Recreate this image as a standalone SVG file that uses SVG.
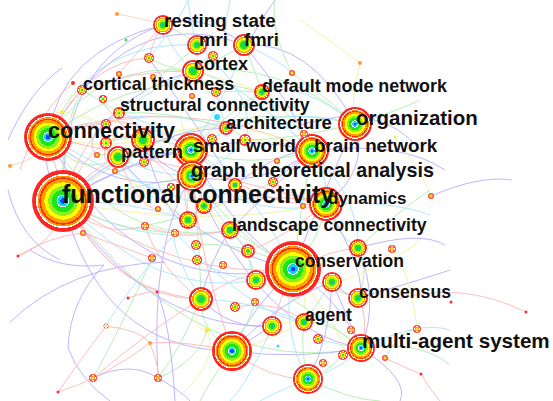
<svg xmlns="http://www.w3.org/2000/svg" width="553" height="401" viewBox="0 0 553 401">
  <defs>
    <style>
      .e { fill: none; stroke-width: 0.9; opacity: 0.5; }
      .eb { stroke: #6f5cff; }
      .er { stroke: #ff6f6f; }
      .eg { stroke: #66dd66; }
      .ec { stroke: #55ccff; }
      .ey { stroke: #e8e640; }
      .eo { stroke: #ffa060; }
      .nL { fill: url(#ringL); }
      .nM { fill: url(#ringM); }
      .nS { fill: url(#ringS); }
      .nT { fill: url(#ringT); }
      .dr { fill: #ff2a2a; }
      .do { fill: #ff9a40; }
      .dy { fill: #f0f040; }
      .dg { fill: #40e040; }
      .dc { fill: #30d8ff; }
      .lbl { font-family: "Liberation Sans", Arial, sans-serif; font-weight: bold; fill: #111; }
    </style>
    <radialGradient id="ringL">
      <stop offset="0" stop-color="#1a3cff"/>
      <stop offset="0.09" stop-color="#1a3cff"/>
      <stop offset="0.09" stop-color="#00d8ff"/>
      <stop offset="0.17" stop-color="#00d8ff"/>
      <stop offset="0.17" stop-color="#ffffff"/>
      <stop offset="0.21" stop-color="#ffffff"/>
      <stop offset="0.21" stop-color="#19e619"/>
      <stop offset="0.36" stop-color="#19e619"/>
      <stop offset="0.36" stop-color="#8cf01e"/>
      <stop offset="0.48" stop-color="#8cf01e"/>
      <stop offset="0.48" stop-color="#ffff00"/>
      <stop offset="0.60" stop-color="#ffff00"/>
      <stop offset="0.60" stop-color="#ffa000"/>
      <stop offset="0.71" stop-color="#ffa000"/>
      <stop offset="0.71" stop-color="#ff2a00"/>
      <stop offset="0.76" stop-color="#ff2a00"/>
      <stop offset="0.76" stop-color="#ff9a00"/>
      <stop offset="0.82" stop-color="#ff9a00"/>
      <stop offset="0.82" stop-color="#ffffff"/>
      <stop offset="0.87" stop-color="#ffffff"/>
      <stop offset="0.87" stop-color="#ff2525"/>
      <stop offset="1" stop-color="#ff2525"/>
    </radialGradient>
    <radialGradient id="ringM">
      <stop offset="0" stop-color="#00b8ff"/>
      <stop offset="0.12" stop-color="#00b8ff"/>
      <stop offset="0.12" stop-color="#20e020"/>
      <stop offset="0.35" stop-color="#20e020"/>
      <stop offset="0.35" stop-color="#a0f020"/>
      <stop offset="0.48" stop-color="#a0f020"/>
      <stop offset="0.48" stop-color="#ffff00"/>
      <stop offset="0.62" stop-color="#ffff00"/>
      <stop offset="0.62" stop-color="#ffa000"/>
      <stop offset="0.75" stop-color="#ffa000"/>
      <stop offset="0.75" stop-color="#ffffff"/>
      <stop offset="0.81" stop-color="#ffffff"/>
      <stop offset="0.81" stop-color="#ff2525"/>
      <stop offset="1" stop-color="#ff2525"/>
    </radialGradient>
    <radialGradient id="ringS">
      <stop offset="0" stop-color="#30e030"/>
      <stop offset="0.25" stop-color="#30e030"/>
      <stop offset="0.25" stop-color="#e8f020"/>
      <stop offset="0.5" stop-color="#e8f020"/>
      <stop offset="0.5" stop-color="#ffa000"/>
      <stop offset="0.62" stop-color="#ffa000"/>
      <stop offset="0.62" stop-color="#ffffff"/>
      <stop offset="0.72" stop-color="#ffffff"/>
      <stop offset="0.72" stop-color="#ff3030"/>
      <stop offset="1" stop-color="#ff3030"/>
    </radialGradient>
    <radialGradient id="ringT">
      <stop offset="0" stop-color="#f0e830"/>
      <stop offset="0.35" stop-color="#f0e830"/>
      <stop offset="0.35" stop-color="#ff9a30"/>
      <stop offset="0.6" stop-color="#ff9a30"/>
      <stop offset="0.6" stop-color="#ffffff"/>
      <stop offset="0.7" stop-color="#ffffff"/>
      <stop offset="0.7" stop-color="#ff4a3a"/>
      <stop offset="1" stop-color="#ff4a3a"/>
    </radialGradient>
  </defs>

  <rect width="553" height="401" fill="#ffffff"/>

  <!-- co-occurrence links -->
  <g id="connectors" class="e">
    <path class="eb" d="M63 201 Q40 170 48 137"/>
    <path class="eb" d="M63 201 Q130 160 191 150"/>
    <path class="eg" d="M63 201 Q120 190 192 176"/>
    <path class="er" d="M63 201 Q180 280 293 269"/>
    <path class="ec" d="M63 201 Q150 250 230 230"/>
    <path class="eb" d="M63 201 Q190 120 312 151"/>
    <path class="eg" d="M63 201 Q200 90 355 124"/>
    <path class="eb" d="M63 201 Q90 100 193 71"/>
    <path class="eb" d="M63 201 Q60 60 163 25"/>
    <path class="er" d="M63 201 Q90 170 118 157"/>
    <path class="er" d="M63 201 Q120 300 201 299"/>
    <path class="eb" d="M63 201 Q100 350 232 351"/>
    <path class="ey" d="M63 201 Q200 230 326 204"/>
    <path class="eg" d="M63 201 Q200 380 361 348"/>
    <path class="er" d="M48 137 Q120 100 191 150"/>
    <path class="eg" d="M48 137 Q100 60 193 71"/>
    <path class="ec" d="M48 137 Q90 40 197 45"/>
    <path class="eb" d="M48 137 Q130 0 244 45"/>
    <path class="ey" d="M48 137 Q55 100 82 90"/>
    <path class="eg" d="M48 137 Q150 60 262 92"/>
    <path class="ec" d="M48 137 Q140 100 226 128"/>
    <path class="er" d="M48 137 Q180 90 312 151"/>
    <path class="eb" d="M48 137 Q120 200 192 176"/>
    <path class="eb" d="M48 137 Q130 300 293 269"/>
    <path class="eg" d="M48 137 Q120 250 230 230"/>
    <path class="er" d="M48 137 Q80 290 201 299"/>
    <path class="ec" d="M191 150 Q270 100 355 124"/>
    <path class="eg" d="M191 150 Q250 170 312 151"/>
    <path class="eb" d="M191 150 Q230 230 293 269"/>
    <path class="er" d="M191 150 Q260 210 326 204"/>
    <path class="ey" d="M191 150 Q170 110 193 71"/>
    <path class="ec" d="M191 150 Q230 90 244 45"/>
    <path class="eb" d="M192 176 Q260 190 312 151"/>
    <path class="ec" d="M192 176 Q260 220 326 204"/>
    <path class="eg" d="M192 176 Q240 240 293 269"/>
    <path class="eb" d="M192 176 Q260 330 361 348"/>
    <path class="ey" d="M192 176 Q200 210 230 230"/>
    <path class="ey" d="M355 124 Q340 140 312 151"/>
    <path class="eb" d="M355 124 Q370 170 326 204"/>
    <path class="eg" d="M355 124 Q280 60 193 71"/>
    <path class="ec" d="M355 124 Q300 80 262 92"/>
    <path class="eb" d="M355 124 Q310 40 244 45"/>
    <path class="eg" d="M312 151 Q290 110 262 92"/>
    <path class="ec" d="M312 151 Q240 80 193 71"/>
    <path class="ec" d="M312 151 Q330 180 326 204"/>
    <path class="eg" d="M293 269 Q320 240 326 204"/>
    <path class="eb" d="M293 269 Q340 300 361 348"/>
    <path class="eg" d="M293 269 Q330 290 358 298"/>
    <path class="ey" d="M293 269 Q310 300 304 322"/>
    <path class="ec" d="M293 269 Q280 330 308 379"/>
    <path class="eb" d="M293 269 Q250 310 232 351"/>
    <path class="er" d="M293 269 Q240 270 201 299"/>
    <path class="eg" d="M293 269 Q250 240 230 230"/>
    <path class="er" d="M293 269 Q330 250 358 248"/>
    <path class="er" d="M361 348 Q370 320 358 298"/>
    <path class="eg" d="M361 348 Q330 320 304 322"/>
    <path class="ec" d="M361 348 Q340 370 308 379"/>
    <path class="eb" d="M361 348 Q300 360 232 351"/>
    <path class="eb" d="M361 348 Q340 300 332 282"/>
    <path class="eg" d="M304 322 Q300 350 308 379"/>
    <path class="ey" d="M304 322 Q270 340 232 351"/>
    <path class="ec" d="M304 322 Q250 300 201 299"/>
    <path class="eg" d="M232 351 Q200 330 201 299"/>
    <path class="er" d="M232 351 Q270 380 308 379"/>
    <path class="eb" d="M230 230 Q210 260 201 299"/>
    <path class="eg" d="M230 230 Q240 240 248 251"/>
    <path class="ec" d="M230 230 Q250 250 256 280"/>
    <path class="eg" d="M163 25 Q180 30 197 45"/>
    <path class="ec" d="M163 25 Q170 50 193 71"/>
    <path class="ey" d="M197 45 Q220 35 244 45"/>
    <path class="eg" d="M244 45 Q220 60 193 71"/>
    <path class="er" d="M193 71 Q130 70 82 90"/>
    <path class="ec" d="M193 71 Q150 90 119 113"/>
    <path class="eg" d="M82 90 Q100 100 119 113"/>
    <path class="ey" d="M119 113 Q110 135 118 157"/>
    <path class="eg" d="M143 140 Q170 140 191 150"/>
    <path class="ec" d="M118 157 Q150 175 192 176"/>
    <path class="eb" d="M118 157 Q200 250 293 269"/>
    <path class="ey" d="M143 140 Q230 110 312 151"/>
    <path class="eg" d="M119 113 Q170 110 226 128"/>
    <path class="eg" d="M262 92 Q255 70 244 45"/>
    <path class="ec" d="M262 92 Q240 110 226 128"/>
    <path class="ey" d="M226 128 Q205 135 191 150"/>
    <path class="eg" d="M188 220 Q196 210 204 206"/>
    <path class="ec" d="M188 220 Q185 200 192 176"/>
    <path class="er" d="M204 206 Q270 190 326 204"/>
    <path class="eb" d="M235 185 Q280 150 312 151"/>
    <path class="eg" d="M245 140 Q236 130 226 128"/>
    <path class="ec" d="M273 182 Q300 200 326 204"/>
    <path class="eb" d="M273 182 Q300 160 312 151"/>
    <path class="eg" d="M248 251 Q250 270 256 280"/>
    <path class="er" d="M256 280 Q275 270 293 269"/>
    <path class="ey" d="M272 326 Q290 320 304 322"/>
    <path class="eb" d="M272 326 Q250 340 232 351"/>
    <path class="eg" d="M358 248 Q370 270 358 298"/>
    <path class="ec" d="M332 282 Q310 270 293 269"/>
    <path class="eb" d="M332 282 Q345 295 358 298"/>
    <path class="er" d="M149 58 Q155 35 163 25"/>
    <path class="eg" d="M149 58 Q170 70 193 71"/>
    <path class="ey" d="M213 56 Q205 50 197 45"/>
    <path class="ec" d="M213 56 Q200 60 193 71"/>
    <path class="eg" d="M216 92 Q240 90 262 92"/>
    <path class="ec" d="M216 92 Q220 110 226 128"/>
    <path class="er" d="M106 124 Q80 125 48 137"/>
    <path class="eg" d="M106 143 Q125 135 143 140"/>
    <path class="ec" d="M106 124 Q110 115 119 113"/>
    <path class="eb" d="M201 299 Q230 330 272 326"/>
    <path class="eg" d="M196 245 Q240 240 293 269"/>
    <path class="ec" d="M197 260 Q230 280 256 280"/>
    <path class="eb" d="M150 60 Q200 130 235 185"/>
    <path class="er" d="M100 100 Q160 170 204 206"/>
    <path class="eg" d="M145 226 Q220 210 273 182"/>
    <path class="ec" d="M175 233 Q260 320 304 322"/>
    <path class="eb" d="M143 140 Q170 230 188 220"/>
    <path class="ey" d="M115 171 Q160 200 188 220"/>
    <path class="eg" d="M97 155 Q150 150 191 150"/>
    <path class="er" d="M235 307 Q280 300 304 322"/>
    <path class="ec" d="M318 339 Q340 345 361 348"/>
    <path class="eg" d="M343 355 Q330 370 308 379"/>
    <path class="eb" d="M244 45 Q290 100 312 151"/>
    <path class="ec" d="M197 45 Q260 100 245 140"/>
    <path class="eg" d="M292 73 Q330 100 355 124"/>
    <path class="ey" d="M360 63 Q350 100 355 124"/>
    <path class="er" d="M63 201 Q100 240 145 226"/>
    <path class="eg" d="M63 201 Q110 230 175 233"/>
    <path class="ec" d="M63 201 Q130 200 188 220"/>
    <path class="eb" d="M63 201 Q140 130 226 128"/>
    <path class="ey" d="M63 201 Q80 140 119 113"/>
    <path class="eg" d="M63 201 Q60 130 82 90"/>
    <path class="er" d="M63 201 Q100 120 143 140"/>
    <path class="ec" d="M63 201 Q160 300 256 280"/>
    <path class="eb" d="M63 201 Q150 330 272 326"/>
    <path class="eg" d="M48 137 Q80 180 118 157"/>
    <path class="ey" d="M48 137 Q100 150 143 140"/>
    <path class="ec" d="M48 137 Q120 180 204 206"/>
    <path class="er" d="M48 137 Q90 60 149 58"/>
    <path class="eb" d="M48 137 Q60 50 163 25"/>
    <path class="er" d="M48 137 Q200 170 326 204"/>
    <path class="eg" d="M191 150 Q200 250 201 299"/>
    <path class="er" d="M191 150 Q180 180 188 220"/>
    <path class="ec" d="M191 150 Q150 120 119 113"/>
    <path class="eg" d="M191 150 Q230 110 262 92"/>
    <path class="eb" d="M192 176 Q160 170 143 140"/>
    <path class="ec" d="M192 176 Q230 160 245 140"/>
    <path class="er" d="M192 176 Q200 260 232 351"/>
    <path class="eb" d="M192 176 Q150 240 158 378"/>
    <path class="ec" d="M293 269 Q250 180 191 150"/>
    <path class="eb" d="M293 269 Q320 200 355 124"/>
    <path class="eg" d="M293 269 Q300 210 312 151"/>
    <path class="ey" d="M293 269 Q350 340 343 355"/>
    <path class="er" d="M293 269 Q280 300 272 326"/>
    <path class="eg" d="M326 204 Q340 240 358 248"/>
    <path class="eb" d="M326 204 Q370 280 358 298"/>
    <path class="er" d="M326 204 Q280 240 248 251"/>
    <path class="ec" d="M312 151 Q360 200 358 248"/>
    <path class="ey" d="M312 151 Q280 140 245 140"/>
    <path class="eg" d="M355 124 Q290 140 245 140"/>
    <path class="eb" d="M361 348 Q380 300 358 248"/>
    <path class="eg" d="M361 348 Q300 300 256 280"/>
    <path class="ey" d="M201 299 Q190 330 207 330"/>
    <path class="er" d="M201 299 Q160 270 145 226"/>
    <path class="ec" d="M201 299 Q170 250 175 233"/>
    <path class="eg" d="M232 351 Q250 320 255 302"/>
    <path class="er" d="M232 351 Q180 340 150 343"/>
    <path class="eb" d="M308 379 Q330 340 332 282"/>
    <path class="eg" d="M304 322 Q320 300 332 282"/>
    <path class="ec" d="M230 230 Q200 190 192 176"/>
    <path class="eb" d="M230 230 Q270 190 312 151"/>
    <path class="er" d="M230 230 Q180 240 145 226"/>
    <path class="eb" d="M163 25 Q200 10 244 45"/>
    <path class="er" d="M163 25 Q130 60 119 74"/>
    <path class="eg" d="M197 45 Q160 80 153 77"/>
    <path class="ec" d="M244 45 Q280 60 292 73"/>
    <path class="ey" d="M193 71 Q230 80 262 92"/>
    <path class="eg" d="M193 71 Q210 100 216 92"/>
    <path class="ey" d="M82 90 Q60 110 62 112"/>
    <path class="er" d="M119 113 Q80 140 97 155"/>
    <path class="eg" d="M143 140 Q120 180 115 171"/>
    <path class="ec" d="M118 157 Q150 200 171 187"/>
    <path class="er" d="M118 157 Q140 210 158 209"/>
    <path class="er" d="M106 143 Q100 170 118 157"/>
    <path class="eb" d="M10 322 Q70 265 165 262"/>
    <path class="eb" d="M104 265 Q70 300 68 348"/>
    <path class="eb" d="M68 348 Q80 380 110 401"/>
    <path class="er" d="M18 256 Q50 236 83 233"/>
    <path class="er" d="M83 233 Q130 250 152 258"/>
    <path class="er" d="M106 326 Q140 330 150 343"/>
    <path class="er" d="M106 326 Q80 360 58 392"/>
    <path class="er" d="M58 392 Q100 380 150 343"/>
    <path class="eb" d="M62 68 Q30 90 8 140"/>
    <path class="eo" d="M10 166 Q40 160 48 137"/>
    <path class="eo" d="M117 14 Q150 20 163 25"/>
    <path class="ey" d="M62 112 Q80 115 106 124"/>
    <path class="eb" d="M275 0 Q260 20 250 40"/>
    <path class="ec" d="M188 0 Q190 20 197 45"/>
    <path class="ec" d="M230 0 Q225 20 225 40"/>
    <path class="eb" d="M300 125 Q380 100 420 150"/>
    <path class="eb" d="M312 151 Q400 140 445 170"/>
    <path class="eb" d="M431 196 Q480 175 512 180"/>
    <path class="ey" d="M395 137 Q420 170 431 196"/>
    <path class="er" d="M395 300 Q460 280 526 312"/>
    <path class="er" d="M421 374 Q430 390 440 401"/>
    <path class="er" d="M385 358 Q410 370 421 374"/>
    <path class="eg" d="M361 348 Q420 340 450 365"/>
    <path class="eb" d="M361 348 Q410 380 400 401"/>
    <path class="eg" d="M417 329 Q400 330 385 358"/>
    <path class="ec" d="M272 326 Q250 380 230 401"/>
    <path class="eg" d="M232 351 Q210 380 200 401"/>
    <path class="eb" d="M158 378 Q180 390 190 401"/>
    <path class="eb" d="M93 378 Q130 360 158 378"/>
    <path class="er" d="M150 343 Q160 370 158 378"/>
    <path class="eg" d="M158 378 Q200 360 207 330"/>
    <path class="ey" d="M207 330 Q220 360 180 396"/>
    <path class="er" d="M128 298 Q150 290 157 292"/>
    <path class="eb" d="M157 292 Q170 320 175 401"/>
    <path class="er" d="M18 256 Q60 240 63 201"/>
    <path class="ey" d="M331 285 Q400 260 420 240"/>
    <path class="eb" d="M358 248 Q420 230 445 245"/>
    <path class="eg" d="M358 248 Q400 210 430 190"/>
    <path class="ec" d="M361 348 Q420 320 450 330"/>
    <path class="eg" d="M308 379 Q350 400 380 401"/>
    <path class="ec" d="M308 379 Q270 395 260 401"/>
    <path class="er" d="M201 299 Q150 330 93 378"/>
    <path class="eg" d="M201 299 Q180 350 158 378"/>
    <path class="eb" d="M232 351 Q280 300 332 282"/>
    <path class="eb" d="M8 190 Q20 240 60 260"/>
    <path class="eb" d="M30 250 Q60 270 104 265"/>
    <path class="er" d="M20 170 Q40 110 73 83"/>
    <path class="ec" d="M175 233 Q120 300 106 326"/>
    <path class="eg" d="M152 258 Q120 330 93 378"/>
    <path class="ec" d="M149 58 Q180 20 188 0"/>
    <path class="eg" d="M292 73 Q270 30 275 0"/>
    <path class="ey" d="M360 63 Q330 40 300 20"/>
    <path class="eg" d="M355 124 Q400 110 420 100"/>
    <path class="ec" d="M326 204 Q390 200 430 215"/>
    <path class="eb" d="M358 298 Q420 280 450 270"/>
    <path class="ey" d="M392 249 Q410 270 417 329"/>
  </g>

  <!-- keyword nodes -->
  <g id="nodes">
    <g id="n-functional-connectivity"><circle class="nL" cx="63" cy="201" r="31"/></g>
    <g id="n-connectivity"><circle class="nL" cx="48" cy="137" r="24"/></g>
    <g id="n-conservation"><circle class="nL" cx="293" cy="269" r="28"/></g>
    <g id="n-small-world"><circle class="nL" cx="191" cy="150" r="17"/></g>
    <g id="n-graph-theoretical-analysis"><circle class="nL" cx="192" cy="176" r="15"/></g>
    <g id="n-organization"><circle class="nL" cx="355" cy="124" r="17"/></g>
    <g id="n-brain-network"><circle class="nL" cx="312" cy="151" r="17"/></g>
    <g id="n-dynamics"><circle class="nL" cx="326" cy="204" r="17"/></g>
    <g id="n-multi-agent-system"><circle class="nL" cx="361" cy="348" r="14"/></g>
    <g id="n-k232-351"><circle class="nL" cx="232" cy="351" r="20"/></g>
    <g id="n-k308-379"><circle class="nL" cx="308" cy="379" r="15"/></g>
    <g id="n-k143-140"><circle class="nM" cx="143" cy="140" r="12"/></g>
    <g id="n-pattern"><circle class="nM" cx="118" cy="157" r="11"/></g>
    <g id="n-cortex"><circle class="nM" cx="193" cy="71" r="11"/></g>
    <g id="n-resting-state"><circle class="nM" cx="163" cy="25" r="10"/></g>
    <g id="n-mri"><circle class="nM" cx="197" cy="45" r="10"/></g>
    <g id="n-fmri"><circle class="nM" cx="244" cy="45" r="11"/></g>
    <g id="n-k201-299"><circle class="nM" cx="201" cy="299" r="12"/></g>
    <g id="n-k188-220"><circle class="nM" cx="188" cy="220" r="9"/></g>
    <g id="n-k204-206"><circle class="nM" cx="204" cy="206" r="8"/></g>
    <g id="n-k256-280"><circle class="nM" cx="256" cy="280" r="10"/></g>
    <g id="n-k272-326"><circle class="nM" cx="272" cy="326" r="10"/></g>
    <g id="n-k358-248"><circle class="nM" cx="358" cy="248" r="9"/></g>
    <g id="n-k332-282"><circle class="nM" cx="332" cy="282" r="10"/></g>
    <g id="n-consensus"><circle class="nM" cx="358" cy="298" r="10"/></g>
    <g id="n-agent"><circle class="nM" cx="304" cy="322" r="9"/></g>
    <g id="n-landscape-connectivity"><circle class="nM" cx="230" cy="230" r="9"/></g>
    <g id="n-default-mode-network"><circle class="nM" cx="262" cy="92" r="8"/></g>
    <g id="n-k235-185"><circle class="nM" cx="235" cy="185" r="7"/></g>
    <g id="n-architecture"><circle class="nS" cx="226" cy="128" r="7"/></g>
    <g id="n-structural-connectivity"><circle class="nS" cx="119" cy="113" r="6"/></g>
    <g id="n-cortical-thickness"><circle class="nS" cx="82" cy="90" r="5"/></g>
    <g id="n-k248-251"><circle class="nS" cx="248" cy="251" r="7"/></g>
    <g id="n-k245-140"><circle class="nS" cx="245" cy="140" r="6"/></g>
    <g id="n-k149-58"><circle class="nS" cx="149" cy="58" r="5"/></g>
    <g id="n-k213-56"><circle class="nS" cx="213" cy="56" r="5"/></g>
    <g id="n-k216-92"><circle class="nS" cx="216" cy="92" r="5"/></g>
    <g id="n-k106-124"><circle class="nS" cx="106" cy="124" r="5"/></g>
    <g id="n-k106-143"><circle class="nS" cx="106" cy="143" r="6"/></g>
    <g id="n-k273-182"><circle class="nS" cx="273" cy="182" r="5"/></g>
    <g id="n-k196-245"><circle class="nS" cx="196" cy="245" r="5"/></g>
    <g id="n-k197-260"><circle class="nS" cx="197" cy="260" r="5"/></g>
    <g id="n-k235-307"><circle class="nS" cx="235" cy="307" r="5"/></g>
    <g id="n-k318-339"><circle class="nS" cx="318" cy="339" r="5"/></g>
    <g id="n-k343-355"><circle class="nS" cx="343" cy="355" r="5"/></g>
    <g id="n-k212-139"><circle class="nS" cx="212" cy="139" r="5"/></g>
    <g id="n-k144-162"><circle class="nS" cx="144" cy="162" r="5"/></g>
    <g id="n-k103-99"><circle class="nS" cx="103" cy="99" r="4"/></g>
    <g id="n-k171-187"><circle class="nS" cx="171" cy="187" r="4"/></g>
    <g id="n-k223-265"><circle class="nT" cx="223" cy="265" r="4"/></g>
    <g id="n-k255-302"><circle class="nT" cx="255" cy="302" r="4"/></g>
    <g id="n-k145-226"><circle class="nT" cx="145" cy="226" r="4"/></g>
    <g id="n-k152-258"><circle class="nT" cx="152" cy="258" r="4"/></g>
    <g id="n-k175-233"><circle class="nT" cx="175" cy="233" r="4"/></g>
    <g id="n-k83-233"><circle class="nT" cx="83" cy="233" r="3"/></g>
    <g id="n-k93-378"><circle class="nT" cx="93" cy="378" r="4"/></g>
    <g id="n-k158-378"><circle class="nT" cx="158" cy="378" r="4"/></g>
    <g id="n-k392-249"><circle class="nT" cx="392" cy="249" r="4"/></g>
    <g id="n-k351-330"><circle class="nT" cx="351" cy="330" r="4"/></g>
    <g id="n-k323-363"><circle class="nT" cx="323" cy="363" r="4"/></g>
    <g id="n-k417-329"><circle class="nT" cx="417" cy="329" r="4"/></g>
    <g id="n-k385-358"><circle class="nT" cx="385" cy="358" r="3"/></g>
    <g id="n-k303-206"><circle class="nT" cx="303" cy="206" r="3"/></g>
    <g id="n-k119-74"><circle class="nT" cx="119" cy="74" r="3"/></g>
    <g id="n-k153-77"><circle class="nT" cx="153" cy="77" r="3"/></g>
    <g id="n-k192-96"><circle class="nT" cx="192" cy="96" r="3"/></g>
    <g id="n-k97-155"><circle class="nT" cx="97" cy="155" r="3"/></g>
    <g id="n-k115-171"><circle class="nT" cx="115" cy="171" r="3"/></g>
    <g id="n-k292-73"><circle class="nT" cx="292" cy="73" r="3"/></g>
    <g id="n-k304-134"><circle class="nT" cx="304" cy="134" r="4"/></g>
    <g id="n-k277-161"><circle class="nT" cx="277" cy="161" r="3"/></g>
    <g id="n-k431-196"><circle class="nT" cx="431" cy="196" r="3"/></g>
    <g id="n-k106-326"><circle class="nT" cx="106" cy="326" r="2.5"/></g>
    <g id="n-k158-209"><circle class="nT" cx="158" cy="209" r="3"/></g>
    <g id="n-k217-117"><circle class="dc" cx="217" cy="117" r="3"/></g>
    <g id="n-d18-256"><circle class="dr" cx="18" cy="256" r="1.5"/></g>
    <g id="n-d128-298"><circle class="dr" cx="128" cy="298" r="1.5"/></g>
    <g id="n-d157-292"><circle class="dr" cx="157" cy="292" r="1.5"/></g>
    <g id="n-d58-392"><circle class="dr" cx="58" cy="392" r="1.5"/></g>
    <g id="n-d526-312"><circle class="dr" cx="526" cy="312" r="1.5"/></g>
    <g id="n-d451-302"><circle class="dr" cx="451" cy="302" r="1.5"/></g>
    <g id="n-d421-374"><circle class="dr" cx="421" cy="374" r="1.5"/></g>
    <g id="n-d73-83"><circle class="dr" cx="73" cy="83" r="2"/></g>
    <g id="n-d117-14"><circle class="do" cx="117" cy="14" r="2"/></g>
    <g id="n-d10-166"><circle class="do" cx="10" cy="166" r="2"/></g>
    <g id="n-d150-343"><circle class="do" cx="150" cy="343" r="2"/></g>
    <g id="n-d360-63"><circle class="do" cx="360" cy="63" r="2"/></g>
    <g id="n-d62-112"><circle class="dy" cx="62" cy="112" r="2"/></g>
    <g id="n-d207-330"><circle class="dy" cx="207" cy="330" r="2.5"/></g>
    <g id="n-d395-137"><circle class="dy" cx="395" cy="137" r="1.5"/></g>
    <g id="n-d126-40"><circle class="dg" cx="126" cy="40" r="1.5"/></g>
    <g id="n-d278-346"><circle class="dc" cx="278" cy="346" r="1.5"/></g>
  </g>

  <!-- keyword labels -->
  <g id="labels" class="lbl">
    <text id="t-resting-state" x="164" y="27" font-size="18.8">resting state</text>
    <text id="t-mri" x="199" y="46" font-size="18.6">mri</text>
    <text id="t-fmri" x="244" y="46" font-size="18.5">fmri</text>
    <text id="t-cortex" x="194" y="70" font-size="18">cortex</text>
    <text id="t-cortical-thickness" x="83" y="90" font-size="17.9">cortical thickness</text>
    <text id="t-default-mode-network" x="262" y="92" font-size="17.9">default mode network</text>
    <text id="t-structural-connectivity" x="120" y="111" font-size="17.7">structural connectivity</text>
    <text id="t-architecture" x="226" y="129" font-size="18.5">architecture</text>
    <text id="t-organization" x="356" y="125" font-size="20.5">organization</text>
    <text id="t-connectivity" x="48" y="138" font-size="21.8">connectivity</text>
    <text id="t-small-world" x="193" y="152" font-size="18.7">small world</text>
    <text id="t-brain-network" x="314" y="152" font-size="18.8">brain network</text>
    <text id="t-pattern" x="121" y="158" font-size="18.3">pattern</text>
    <text id="t-graph-theoretical-analysis" x="191" y="177" font-size="19.7">graph theoretical analysis</text>
    <text id="t-functional-connectivity" x="62" y="203" font-size="25">functional connectivity</text>
    <text id="t-dynamics" x="328" y="204" font-size="17">dynamics</text>
    <text id="t-landscape-connectivity" x="232" y="231" font-size="17.7">landscape connectivity</text>
    <text id="t-conservation" x="295" y="267" font-size="17.5">conservation</text>
    <text id="t-consensus" x="359" y="298" font-size="17.6">consensus</text>
    <text id="t-agent" x="305" y="321" font-size="17.6">agent</text>
    <text id="t-multi-agent-system" x="362" y="348" font-size="20.6">multi-agent system</text>
  </g>
</svg>
